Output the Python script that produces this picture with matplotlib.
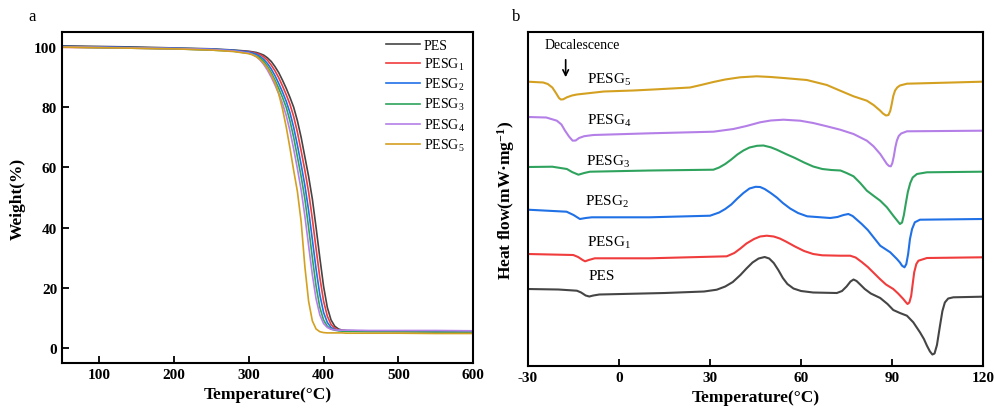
import matplotlib
matplotlib.use("Agg")
import matplotlib.pyplot as plt

plt.rcParams['font.family'] = ['Liberation Serif', 'DejaVu Serif']
plt.rcParams['mathtext.default'] = 'regular'
plt.rcParams['axes.unicode_minus'] = False

# ---------------- Panel a: TGA ----------------
tga_T = [50, 100, 150, 200, 250, 280,
         300, 305, 310, 315, 320, 325, 330, 335, 340, 345, 350, 355, 360, 365,
         370, 375, 380, 385, 390, 395, 400, 405, 410, 415, 420, 425, 430,
         440, 460, 500, 550, 600]
w_PES = [100.4, 100.2, 100.0, 99.7, 99.4, 99.0,
         98.6, 98.4, 98.2, 97.8, 97.3, 96.4, 95.2, 93.5, 91.5, 89.0, 86.3, 83.3, 80.0, 75.5,
         70.0, 63.5, 57.0, 49.5, 40.0, 30.0, 20.5, 13.5, 9.3, 7.2, 6.3, 5.9, 5.8,
         5.7, 5.6, 5.6, 5.5, 5.4]
w_G1 = [99.9, 99.8, 99.6, 99.4, 99.1, 98.8,
        98.4, 98.2, 97.9, 97.5, 96.7, 95.6, 94.0, 92.1, 89.8, 87.1, 84.2, 81.0, 76.9, 71.7,
        65.5, 59.0, 51.8, 42.9, 33.0, 23.4, 15.6, 10.6, 7.8, 6.5, 6.0, 5.8, 5.7,
        5.6, 5.6, 5.5, 5.5, 5.4]
w_G2 = [100.2, 100.0, 99.8, 99.6, 99.3, 98.9,
        98.3, 98.0, 97.6, 96.9, 95.9, 94.5, 92.7, 90.5, 87.9, 85.1, 82.0, 78.2, 73.3, 67.4,
        60.9, 54.0, 45.7, 36.0, 26.2, 17.7, 11.8, 8.5, 6.8, 6.1, 5.85, 5.75, 5.7,
        5.7, 5.6, 5.6, 5.5, 5.5]
w_G3 = [100.0, 99.8, 99.6, 99.4, 99.0, 98.6,
        97.9, 97.6, 97.0, 96.4, 95.2, 93.5, 91.5, 89.0, 86.3, 83.3, 80.0, 75.5, 70.0, 63.5,
        57.0, 49.5, 40.0, 30.0, 20.5, 13.5, 9.3, 7.2, 6.3, 5.9, 5.7, 5.6, 5.5,
        5.5, 5.4, 5.4, 5.3, 5.3]
w_G4 = [100.1, 99.9, 99.7, 99.5, 99.2, 98.7,
        98.0, 97.5, 96.8, 95.7, 94.2, 92.3, 90.0, 87.4, 84.5, 81.3, 77.3, 72.2, 66.1, 59.6,
        52.5, 43.8, 34.0, 24.3, 16.3, 11.0, 8.1, 6.8, 6.2, 6.0, 5.9, 5.9, 5.9,
        5.9, 5.8, 5.8, 5.8, 5.7]
w_G5 = [100.0, 99.8, 99.6, 99.4, 99.0, 98.5,
        97.8, 97.4, 96.8, 95.9, 94.6, 93.0, 90.8, 88.2, 84.5, 79.5, 73.5, 66.5, 59.0, 52.0,
        42.0, 27.0, 15.5, 9.0, 6.3, 5.4, 5.1, 5.0, 5.0, 5.0, 5.0, 5.0, 4.9,
        4.9, 4.9, 4.9, 4.8, 4.8]

tga_series = [("PES", w_PES), ("PESG$_1$", w_G1), ("PESG$_2$", w_G2),
              ("PESG$_3$", w_G3), ("PESG$_4$", w_G4), ("PESG$_5$", w_G5)]
colors = ["#454545", "#f03c3c", "#2070e6", "#2fa35e", "#b57fe8", "#d4a020"]

# ---------------- Panel b: DSC (arbitrary heat-flow units, endo down) ----------------
T_PES = [-30, -20, -13.9, -12.5, -11, -9.8, -8.5, -6.5, 15, 28,
         32.2, 35, 37.5, 40, 42, 44, 46, 48, 49.5, 51,
         52.5, 54, 55.5, 57.5, 60, 64, 71.8, 73.5, 75, 76.3,
         77.3, 78.3, 79.5, 81, 83, 86.1, 88.5, 90.4, 92.6, 94.9,
         97, 99.2, 100.5, 101.5, 102.5, 103.3, 104, 104.8, 105.8, 106.6,
         107.4, 108.5, 110.2, 119.6]
H_PES = [-290, -290.5, -291.7, -293.5, -296.5, -297.5, -296.5, -295.5, -294, -292.5,
         -290.7, -287.5, -283, -276, -269.5, -263.5, -259.5, -258, -259.5, -264,
         -271, -279, -285, -289.5, -292, -293.5, -294, -292, -287.5, -282.5,
         -280.5, -282, -285.5, -290, -294.5, -299, -305, -311, -314, -316.7,
         -323.3, -333.3, -340, -346.7, -352.5, -355.5, -354.5, -346, -326.7, -312,
         -303.5, -299.5, -298.3, -297.7]

T_G1 = [-30, -15.1, -13.5, -12, -11.2, -10, -8, 10, 35.5, 38,
        40, 42, 44.5, 46.5, 48.7, 51, 53, 55, 58, 61,
        64, 67, 72.9, 76.2, 78, 80, 82, 84, 86, 88,
        90.4, 92, 93.7, 94.5, 95.1, 95.7, 96.3, 96.8, 97.3, 98,
        98.7, 101.5, 119.6]
H_G1 = [-255, -256, -258, -261, -262.3, -261, -259.3, -259.3, -257.3, -254,
        -249.5, -244.5, -240, -237.5, -236.7, -237.5, -239.5, -242.5, -247.5, -252,
        -255, -256.3, -256.7, -256.7, -258.5, -263, -268, -274, -280, -285.5,
        -290, -294.5, -300, -303, -305, -303.5, -297, -285, -273.3, -265,
        -261.7, -259, -258.3]

T_G2 = [-30, -17.3, -15, -12.9, -11, -9, 10, 30, 33, 35,
        37, 39, 41, 43, 45, 46.5, 48, 50, 52, 54,
        56.4, 59, 62, 69.6, 72, 74, 75.6, 77, 78.5, 80,
        82, 86.1, 89.4, 91.6, 92.6, 93.3, 94.1, 94.7, 95.3, 95.9,
        96.6, 97.5, 99.2, 119.6]
H_G2 = [-210.7, -212.7, -216, -220, -219, -218.3, -218.3, -216.7, -213.5, -210,
        -205.5, -199.5, -194, -189.5, -187.8, -188, -190, -194, -198.5, -204,
        -209.5, -214, -217.3, -219, -218, -216, -215, -217, -221, -225,
        -231, -246.7, -253.3, -260, -263.5, -266.7, -268.3, -265, -255, -240,
        -230, -223.3, -220.7, -220]

T_G3 = [-30, -22, -17.2, -15.5, -13.4, -11.5, -9.6, 10.2, 31.1, 33,
        35, 37, 39, 41, 43, 45.5, 47.6, 50, 52, 55,
        58, 61, 64, 67, 70, 73, 75, 77.3, 79.5, 81.7,
        84, 86.1, 88.3, 90.4, 91.8, 92.6, 93.3, 93.9, 94.5, 95.2,
        96, 96.8, 98.2, 101.5, 119.6]
H_G3 = [-168, -167.7, -170, -173, -175.7, -174, -172.7, -171.5, -170.7, -168.5,
        -165, -160.5, -155.5, -151.5, -148.5, -146.8, -146.5, -148.3, -150.7, -155,
        -159, -163.5, -167.5, -170, -171, -171.5, -174, -177.3, -184, -191.7,
        -197, -201.7, -208.3, -216.7, -222, -225, -223.5, -216, -205, -193,
        -184, -178.5, -175, -173.3, -172.7]

T_G4 = [-30, -24, -20.5, -19, -17.8, -16.5, -15.3, -14.3, -13.2, -11.5,
        -8.5, 10.2, 31.1, 37.7, 42, 46.5, 50, 54.2, 59.7, 64,
        68.5, 72.9, 77.3, 81.7, 83.9, 86.1, 88.3, 89, 89.6, 90.1,
        90.6, 91.1, 91.6, 92.2, 93, 94.9, 119.6]
H_G4 = [-118, -118.5, -121.7, -125.5, -131.7, -137.5, -141.7, -141.5, -139, -137.2,
        -136, -134.3, -132.7, -130, -127, -123.3, -121.5, -120.7, -121.7, -124,
        -127.3, -130.7, -135, -141.7, -147.3, -155, -165, -167, -167.3, -164,
        -157, -148, -141.5, -137, -134.5, -132.3, -131.7]

T_G5 = [-30, -25, -23.5, -22, -20.8, -19.8, -19.2, -18.4, -17.2, -15.5,
        -13.9, -5, 4.7, 11.3, 23.4, 27, 31.1, 35, 39.9, 45.4,
        50, 54.2, 61.9, 68.5, 72.9, 77.3, 81.7, 83.9, 86.1, 87,
        88, 88.8, 89.4, 89.9, 90.4, 91, 91.7, 92.6, 94.9, 110,
        119.6]
H_G5 = [-82.7, -83.5, -85, -88.5, -94, -99, -100.5, -100.3, -98.3, -96.5,
        -95.5, -92.5, -91.5, -90.5, -88.5, -86, -83, -80.5, -78.3, -77.3,
        -78, -79, -81, -86, -91.7, -97.3, -101.7, -106, -111.7, -114.5,
        -116.5, -116, -112, -105, -97, -91.5, -88.5, -86.5, -84.7, -83.5,
        -82.7]

dsc_series = [(T_PES, H_PES), (T_G1, H_G1), (T_G2, H_G2), (T_G3, H_G3), (T_G4, H_G4), (T_G5, H_G5)]
dsc_labels = ["PES", "PESG$_1$", "PESG$_2$", "PESG$_3$", "PESG$_4$", "PESG$_5$"]

fig = plt.figure(figsize=(9.95, 4.14), dpi=100)
axa = fig.add_axes([0.0623, 0.1208, 0.4131, 0.7995])
axb = fig.add_axes([0.5307, 0.1135, 0.4573, 0.8068])

for (lab, w), c in zip(tga_series, colors):
    axa.plot(tga_T, w, color=c, lw=1.2, label=lab)
axa.set_xlim(50, 600)
axa.set_ylim(-5, 105)
axa.set_xticks([100, 200, 300, 400, 500, 600])
axa.set_yticks([0, 20, 40, 60, 80, 100])
axa.set_xlabel("Temperature(°C)", fontsize=12.5, fontweight='bold', labelpad=4)
axa.set_ylabel("Weight(%)", fontsize=12.5, fontweight='bold', labelpad=6)
leg = axa.legend(loc='upper right', bbox_to_anchor=(1.0, 1.005), frameon=False, fontsize=10,
                 handlelength=2.4, labelspacing=0.3, borderaxespad=0.2, handletextpad=0.3)

for (T, H), c in zip(dsc_series, colors):
    axb.plot(T, H, color=c, lw=1.5, solid_joinstyle='round')
axb.set_xlim(-30, 120)
axb.set_ylim(-367, -33)
axb.set_xticks([-30, 0, 30, 60, 90, 120])
axb.set_yticks([])
axb.set_xlabel("Temperature(°C)", fontsize=12.5, fontweight='bold', labelpad=4)
axb.set_ylabel("Heat flow(mW·mg$^{-1}$)", fontsize=12.5, fontweight='bold', labelpad=8)

lab_pos = [(-10.2, -276.7), (-10.5, -242.7), (-11.1, -201.7), (-10.9, -161.7), (-10.6, -120.7), (-10.6, -80)]
for lab, (x, y) in zip(dsc_labels, lab_pos):
    axb.text(x, y, lab, fontsize=11, va='center', ha='left')
axb.text(-24.7, -46, "Decalescence", fontsize=10, va='center', ha='left')
axb.annotate("", xy=(-17.6, -81), xytext=(-17.6, -58),
             arrowprops=dict(arrowstyle='->', color='black', lw=1.2))

for ax in (axa, axb):
    for s in ax.spines.values():
        s.set_linewidth(1.5)
    ax.tick_params(direction='in', length=5, width=1.3, labelsize=11)
    for t in ax.get_xticklabels() + ax.get_yticklabels():
        t.set_fontweight('bold')

fig.text(31.7 / 995, 1 - 16.7 / 414, "a", fontsize=12, ha='center', va='center')
fig.text(516 / 995, 1 - 16.7 / 414, "b", fontsize=12, ha='center', va='center')

fig.savefig("out.png", dpi=100)
